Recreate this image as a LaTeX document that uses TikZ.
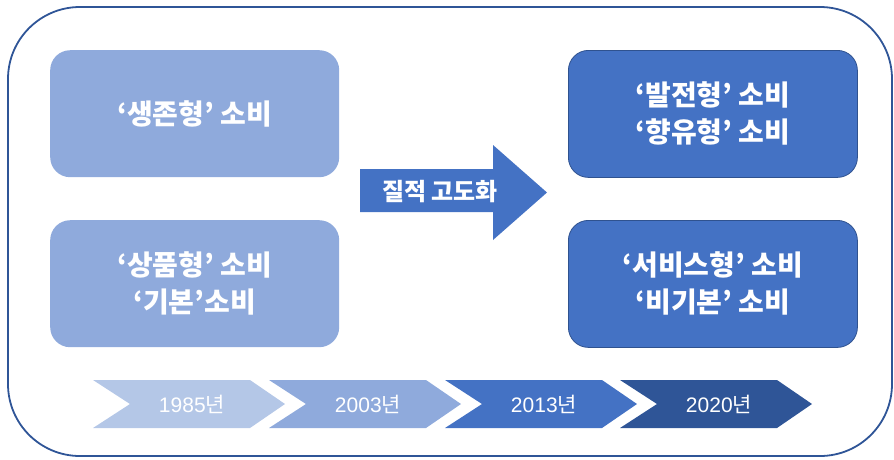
\documentclass[tikz,border=0pt]{standalone}
\usepackage{fontspec}
\setmainfont{Noto Sans CJK KR}
\newfontfamily\digitfont{Liberation Sans}
\usetikzlibrary{positioning}
\definecolor{outerc}{HTML}{2F5597}
\definecolor{lightbox}{HTML}{8FAADC}
\definecolor{darkbox}{HTML}{4472C4}
\definecolor{darkedge}{HTML}{2F528F}
\definecolor{chA}{HTML}{B4C7E7}
\definecolor{chB}{HTML}{8FAADC}
\definecolor{chC}{HTML}{4472C4}
\definecolor{chD}{HTML}{2F5597}
\newcommand{\yr}[1]{{\digitfont #1}년}
\tikzset{
  boxbase/.style={rounded corners=20pt, minimum width=289pt, minimum height=127pt,
    text=white, align=center, font=\fontsize{28}{37}\selectfont\bfseries, inner sep=0pt},
  oldbox/.style={boxbase, fill=lightbox},
  newbox/.style={boxbase, fill=darkbox, draw=darkedge, line width=0.8pt},
  yeartext/.style={text=white, font=\fontsize{21}{24}\selectfont, inner sep=0pt},
  arrowtext/.style={text=white, font=\fontsize{24}{28}\selectfont\bfseries, inner sep=0pt},
}
\begin{document}
\begin{tikzpicture}[x=1pt,y=-1pt]
\useasboundingbox (0,0) rectangle (894,459);
\draw[outerc, line width=1.8pt, rounded corners=72pt] (8,7) rectangle (892,456);
% boxes
\node[oldbox, anchor=north west] (survive) at (50,50) {‘생존형’ 소비};
\node[oldbox, anchor=north west] (goods) at (50,220) {‘상품형’ 소비\\‘기본’소비};
\node[newbox, anchor=north west] (develop) at (568,50) {‘발전형’ 소비\\‘향유형’ 소비};
\node[newbox, anchor=north west] (service) at (568,220) {‘서비스형’ 소비\\‘비기본’ 소비};
% arrow
\fill[darkbox] (360,169) -- (493,169) -- (493,145) -- (547,192.5) -- (493,240) -- (493,212) -- (360,212) -- cycle;
\node[arrowtext] (quality) at (440,192) {질적 고도화};
% chevrons
\foreach \x/\c/\t/\n in {93/chA/1985/ya, 269/chB/2003/yb, 445/chC/2013/yc, 620/chD/2020/yd}{
  \fill[\c] (\x,380) -- ({\x+157},380) -- ({\x+192},404) -- ({\x+157},428) -- (\x,428) -- ({\x+37},404) -- cycle;
  \node[yeartext] (\n) at ({\x+99},404) {\yr{\t}};
}
\end{tikzpicture}
\end{document}
